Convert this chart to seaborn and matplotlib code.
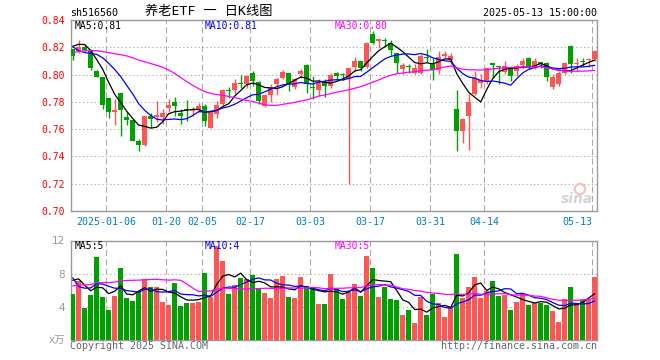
import matplotlib
matplotlib.use('Agg')
import matplotlib.pyplot as plt
import seaborn as sns
import pandas as pd
import numpy as np

# daily candles 2024-12-26 .. 2025-05-13 (88 trading days)
opens = [0.8185, 0.8175, 0.8205, 0.8175, 0.8025, 0.7980, 0.7825, 0.7722, 0.7863, 0.7690,
         0.7665, 0.7514, 0.7483, 0.7697, 0.7687, 0.7690, 0.7754, 0.7802, 0.7717, 0.7742,
         0.7735, 0.7739, 0.7771, 0.7612, 0.7710, 0.7783, 0.7883, 0.7890, 0.7937, 0.7929,
         0.8010, 0.7946, 0.7771, 0.7851, 0.7929, 0.7978, 0.8010, 0.7910, 0.8007, 0.8071,
         0.7912, 0.7885, 0.7949, 0.7917, 0.8010, 0.8003, 0.7966, 0.8059, 0.8100, 0.8056,
         0.8295, 0.8246, 0.8249, 0.8234, 0.8156, 0.8044, 0.8063, 0.8015, 0.8015, 0.8127,
         0.8076, 0.8034, 0.8137, 0.8105, 0.7746, 0.7588, 0.7698, 0.7856, 0.7941, 0.7949,
         0.8088, 0.8059, 0.8022, 0.8056, 0.8027, 0.8071, 0.8120, 0.8063, 0.8090, 0.8088,
         0.7912, 0.7929, 0.8015, 0.8210, 0.8078, 0.8095, 0.8105, 0.8117]
highs = [0.8190, 0.8250, 0.8220, 0.8185, 0.8030, 0.7985, 0.7825, 0.7819, 0.7865, 0.7722,
         0.7673, 0.7526, 0.7697, 0.7715, 0.7807, 0.7746, 0.7820, 0.7832, 0.7746, 0.7817,
         0.7760, 0.7788, 0.7783, 0.7734, 0.7807, 0.7893, 0.7910, 0.7966, 0.7998, 0.7998,
         0.8024, 0.7954, 0.7856, 0.7929, 0.7978, 0.8032, 0.8010, 0.7978, 0.8039, 0.8080,
         0.7990, 0.7966, 0.7966, 0.8015, 0.8020, 0.8015, 0.8046, 0.8132, 0.8100, 0.8241,
         0.8320, 0.8259, 0.8266, 0.8251, 0.8161, 0.8088, 0.8076, 0.8080, 0.8149, 0.8185,
         0.8124, 0.8173, 0.8173, 0.8161, 0.7890, 0.7685, 0.7868, 0.8027, 0.8002, 0.8051,
         0.8088, 0.8063, 0.8100, 0.8063, 0.8076, 0.8124, 0.8129, 0.8124, 0.8093, 0.8095,
         0.8002, 0.8027, 0.8095, 0.8215, 0.8120, 0.8120, 0.8124, 0.8178]
lows = [0.8105, 0.8155, 0.8175, 0.8030, 0.7980, 0.7745, 0.7682, 0.7634, 0.7550, 0.7631,
        0.7510, 0.7441, 0.7480, 0.7612, 0.7649, 0.7641, 0.7729, 0.7698, 0.7637, 0.7661,
        0.7700, 0.7722, 0.7624, 0.7607, 0.7680, 0.7759, 0.7827, 0.7856, 0.7900, 0.7905,
        0.7918, 0.7783, 0.7763, 0.7802, 0.7851, 0.7966, 0.7880, 0.7893, 0.7978, 0.7868,
        0.7820, 0.7844, 0.7837, 0.7905, 0.7959, 0.7959, 0.7198, 0.8027, 0.8027, 0.8051,
        0.8222, 0.8198, 0.8202, 0.8144, 0.8015, 0.8002, 0.8015, 0.8007, 0.8007, 0.8095,
        0.7959, 0.8007, 0.8124, 0.8076, 0.7441, 0.7495, 0.7446, 0.7851, 0.7900, 0.7934,
        0.7978, 0.7934, 0.8002, 0.7954, 0.7990, 0.8039, 0.8039, 0.8039, 0.8046, 0.7954,
        0.7893, 0.7917, 0.8002, 0.8015, 0.8027, 0.8063, 0.8056, 0.8100]
closes = [0.8135, 0.8205, 0.8180, 0.8045, 0.7985, 0.7780, 0.7726, 0.7741, 0.7741, 0.7670,
          0.7514, 0.7484, 0.7693, 0.7678, 0.7702, 0.7717, 0.7776, 0.7768, 0.7698, 0.7738,
          0.7745, 0.7771, 0.7661, 0.7729, 0.7778, 0.7885, 0.7878, 0.7941, 0.7932, 0.7990,
          0.7950, 0.7807, 0.7849, 0.7912, 0.7966, 0.8020, 0.7929, 0.7966, 0.8027, 0.7929,
          0.7905, 0.7939, 0.7917, 0.7998, 0.7990, 0.7998, 0.8046, 0.8100, 0.8046, 0.8234,
          0.8234, 0.8259, 0.8244, 0.8180, 0.8088, 0.8068, 0.8058, 0.8046, 0.8137, 0.8122,
          0.8032, 0.8129, 0.8154, 0.8134, 0.7588, 0.7673, 0.7802, 0.7973, 0.7959, 0.8046,
          0.8071, 0.8056, 0.8063, 0.7990, 0.8063, 0.8100, 0.8063, 0.8100, 0.8080, 0.7983,
          0.7985, 0.8010, 0.8088, 0.8076, 0.8083, 0.8090, 0.8110, 0.8173]
volumes = [5.52, 7.12, 3.84, 5.40, 9.96, 5.16, 3.60, 5.28, 8.64, 5.04,
           4.68, 5.88, 7.32, 6.36, 6.36, 4.60, 4.20, 6.84, 4.08, 4.44,
           4.44, 4.56, 8.04, 5.16, 11.28, 9.48, 5.52, 6.60, 7.44, 7.32,
           7.80, 6.24, 5.64, 5.04, 7.32, 7.68, 5.16, 5.04, 7.56, 6.48,
           6.36, 4.32, 4.32, 7.92, 6.12, 4.92, 5.76, 6.72, 5.28, 10.08,
           8.64, 5.16, 6.36, 4.92, 4.80, 3.00, 3.60, 2.04, 5.16, 3.00,
           5.52, 4.44, 2.76, 3.96, 10.32, 5.04, 6.36, 7.56, 5.04, 5.88,
           7.08, 5.28, 5.40, 3.60, 4.56, 5.52, 4.20, 4.44, 4.44, 4.20,
           3.48, 2.16, 4.92, 6.36, 4.32, 4.80, 4.92, 7.56]

# estimated sessions left of the window, only used to feed the moving averages
close_before = [0.795, 0.799, 0.802, 0.800, 0.797, 0.796, 0.798, 0.796, 0.793, 0.793,
                0.800, 0.804, 0.808, 0.810, 0.812, 0.840, 0.852, 0.860, 0.862, 0.858,
                0.851, 0.830, 0.812, 0.805, 0.803, 0.813, 0.819, 0.826, 0.832]
volume_before = [3.6, 4.1, 3.9, 3.5, 4.0, 3.7, 3.8, 4.2, 3.6, 3.9,
                 5.4, 6.1, 5.2, 5.9, 6.0, 5.5, 5.8, 5.7, 17.5, 19.2,
                 17.7, 5.8, 5.1, 4.9, 5.5, 6.3, 7.6, 8.8, 7.8]

tick_idx = [6, 16, 22, 30, 40, 50, 60, 69, 87]
tick_labels = ['2025-01-06', '01-20', '02-05', '02-17', '03-03', '03-17', '03-31', '04-14', '05-13']
price_ticks = [0.70, 0.72, 0.74, 0.76, 0.78, 0.80, 0.82, 0.84]
vol_ticks = [0, 4, 8, 12]
vol_tick_labels = ['x万', '4', '8', '12']

UP = '#ff5555'
DOWN = '#00a000'
GRID = '#aaaaaa'
W, H = 660, 360


def mov_avg(before, vals, n):
    s = pd.Series(before + vals).rolling(n).mean()
    return s.iloc[len(before):].to_numpy()


sns.set_style('white')
plt.rcParams['font.family'] = ['DejaVu Sans Mono', 'Noto Sans CJK SC']

fig = plt.figure(figsize=(W / 100, H / 100), dpi=100)
ax = fig.add_axes([70.7 / W, 1 - 211 / H, 526.6 / W, 191 / H])
axv = fig.add_axes([70.7 / W, 1 - 340 / H, 526.6 / W, 99.5 / H])

x = np.arange(len(closes))
o, h, l, c = (np.array(a) for a in (opens, highs, lows, closes))
cols = np.where(c >= o, UP, DOWN)

# candles
ax.vlines(x, l, h, colors=cols, lw=1, zorder=3)
ax.bar(x, np.maximum(np.abs(c - o), 0.0007), bottom=np.minimum(o, c),
       width=0.8, color=cols, linewidth=0, zorder=4)

for n, colr in [(5, 'black'), (10, '#0000ff'), (30, '#ff00ff')]:
    sns.lineplot(x=x, y=mov_avg(close_before, closes, n), color=colr, lw=0.9, ax=ax, zorder=5)
    sns.lineplot(x=x, y=mov_avg(volume_before, volumes, n), color=colr, lw=0.9, ax=axv, zorder=5)

axv.bar(x, volumes, width=0.88, color=cols, linewidth=0, zorder=3)

for a in (ax, axv):
    a.set_xlim(-0.33, 87.43)
    a.set_xticks([i - 0.45 for i in tick_idx])
    a.grid(False)
    a.xaxis.grid(True, color=GRID, ls=(0, (6, 3)), lw=0.75)
    a.yaxis.grid(True, color=GRID, ls=(0, (1.2, 2.5)), lw=0.75)
    a.set_axisbelow(True)
    for s in a.spines.values():
        s.set_color('#999999')
        s.set_linewidth(1)
    a.set_xlabel('')
    a.set_ylabel('')

ax.set_ylim(0.70, 0.84)
ax.set_yticks(price_ticks)
ax.set_yticklabels([f'{v:.2f}' for v in price_ticks])
ax.set_xticklabels(tick_labels)
ax.tick_params(axis='y', length=0, pad=4, labelsize=7, labelcolor='#ff0000')
ax.tick_params(axis='x', length=0, pad=4, labelsize=7.2, labelcolor='#0080c0')
ax.get_xticklabels()[-1].set_ha('right')

axv.set_ylim(0, 12)
axv.set_yticks(vol_ticks)
axv.set_yticklabels(vol_tick_labels, family=['DejaVu Sans', 'Noto Sans CJK SC'])
axv.set_xticklabels([])
axv.tick_params(axis='y', length=0, pad=4, labelsize=7.5, labelcolor='#999999')
axv.tick_params(axis='x', length=0)

# watermark
ax.scatter([0.967], [0.115], s=55, marker='o', facecolors='none', edgecolors='#f6c0c0',
           linewidths=1.6, transform=ax.transAxes, zorder=2)
ax.text(0.962, 0.065, 'sina', transform=ax.transAxes, ha='center', va='center',
        fontsize=10, fontweight='bold', style='italic', color='#d4d4d4',
        family='DejaVu Sans', zorder=2)


def ftext(px, py, s, **kw):
    fig.text(px / W, 1 - py / H, s, va='center', **kw)


ftext(70, 13, 'sh516560', fontsize=7.2, color='black')
ftext(209, 11.5, '养老ETF 一 日K线图', fontsize=9.5, ha='center', color='black')
ftext(597, 12.5, '2025-05-13 15:00:00', fontsize=7.2, ha='right', color='black')

ftext(75, 26, 'MA5:0.81', fontsize=7, color='black')
ftext(205, 26, 'MA10:0.81', fontsize=7, color='#0000ff')
ftext(335, 26, 'MA30:0.80', fontsize=7, color='#ff00ff')
ftext(75, 246, 'MA5:5', fontsize=7, color='black')
ftext(205, 246, 'MA10:4', fontsize=7, color='#0000ff')
ftext(335, 246, 'MA30:5', fontsize=7, color='#ff00ff')

ftext(70, 346, 'Copyright 2025 SINA.COM', fontsize=7.2, color='#666666')
ftext(597, 346, 'http://finance.sina.com.cn', fontsize=7.2, ha='right', color='#666666')

fig.savefig('out.png', dpi=100)
